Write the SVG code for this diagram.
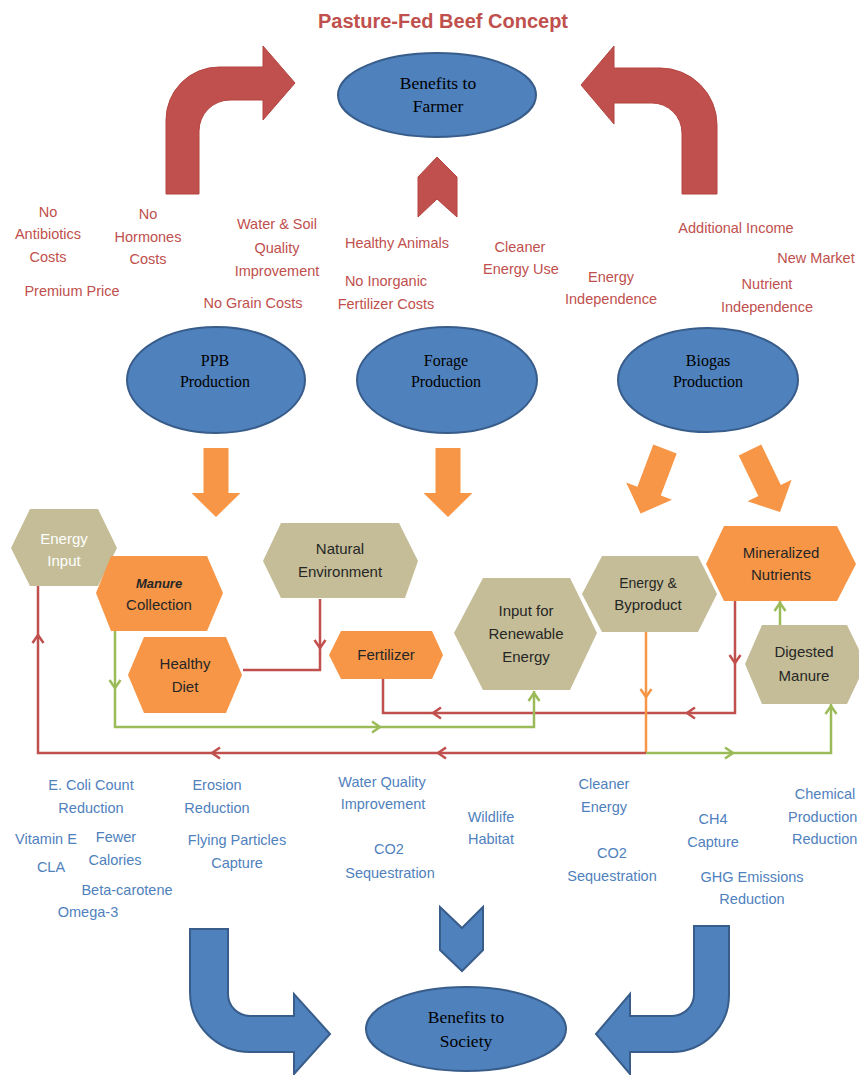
<svg xmlns="http://www.w3.org/2000/svg" xmlns:xlink="http://www.w3.org/1999/xlink" width="859" height="1075" viewBox="0 0 859 1075">
<style>
.t{font-family:"Liberation Sans",Arial,sans-serif;font-size:14.5px;text-anchor:middle}
.r{fill:#c0504d}
.b{fill:#4f81bd}
.s{font-family:"Liberation Serif","Times New Roman",serif;text-anchor:middle;fill:#000}
.ell{fill:#4f81bd;stroke:#385d8a;stroke-width:2}
.tan{fill:#c4bd97}
.org{fill:#f79646}
.ht{font-family:"Liberation Sans",Arial,sans-serif;font-size:15px;text-anchor:middle;fill:#262626}
.ra{fill:#c0504d;stroke:#b4443f;stroke-width:1}
.ba{fill:#4f81bd;stroke:#385d8a;stroke-width:2}
.oa{fill:#f79646}
.cn{fill:none;stroke-width:2.5;stroke-linejoin:miter}
.cr{stroke:#c0504d}
.cg{stroke:#9bbb59}
.co{stroke:#f79646}
.ch{fill:none;stroke-width:2.5;stroke-linejoin:miter;stroke-linecap:butt}
</style>
<defs>
<path id="chev" d="M-5.5,-8 L0,0 L5.5,-8"/>
<path id="oarrow" d="M-12.5,0 L12.5,0 L12.5,45 L24.5,45 L0,69 L-24.5,45 L-12.5,45 Z"/>
</defs>
<rect width="859" height="1075" fill="#ffffff"/>

<text x="443" y="28" font-family="Liberation Sans,Arial,sans-serif" font-size="20" font-weight="bold" text-anchor="middle" fill="#c0504d">Pasture-Fed Beef Concept</text>

<g id="farmer-arrows">
<path class="ra" d="M166,194 L166,120 A53,53 0 0 1 219,67 L263,67 L263,46 L295,83 L263,120 L263,100 L230,100 A31,31 0 0 0 199,131 L199,194 Z"/>
<path class="ra" d="M717,194 L717,125 A57,57 0 0 0 660,68 L614,68 L614,46 L581,85 L614,124 L614,103 L652,103 A30,30 0 0 1 682,133 L682,194 Z"/>
<path class="ra" d="M418,177 L437,157 L457,177 L457,217 L437,199 L418,217 Z"/>
</g>

<g id="benefits-farmer">
<ellipse class="ell" cx="437" cy="95" rx="99" ry="42"/>
<text class="s" x="438" y="89" font-size="17.5">Benefits to</text>
<text class="s" x="438" y="112" font-size="17.5">Farmer</text>
</g>

<g id="farmer-labels" class="t r">
<text x="48" y="217">No</text>
<text x="48" y="239">Antibiotics</text>
<text x="48" y="262">Costs</text>
<text x="72" y="296">Premium Price</text>
<text x="148" y="219">No</text>
<text x="148" y="242">Hormones</text>
<text x="148" y="264">Costs</text>
<text x="277" y="229">Water &amp; Soil</text>
<text x="277" y="253">Quality</text>
<text x="277" y="276">Improvement</text>
<text x="253" y="308">No Grain Costs</text>
<text x="397" y="248">Healthy Animals</text>
<text x="386" y="286">No Inorganic</text>
<text x="386" y="309">Fertilizer Costs</text>
<text x="520" y="252">Cleaner</text>
<text x="521" y="274">Energy Use</text>
<text x="611" y="282">Energy</text>
<text x="611" y="304">Independence</text>
<text x="736" y="233">Additional Income</text>
<text x="816" y="263">New Market</text>
<text x="767" y="289">Nutrient</text>
<text x="767" y="312">Independence</text>
</g>

<g id="ppb-production">
<ellipse class="ell" cx="216" cy="380" rx="89" ry="53"/>
<text class="s" x="215" y="366" font-size="16">PPB</text>
<text class="s" x="215" y="387" font-size="16">Production</text>
</g>
<g id="forage-production">
<ellipse class="ell" cx="447" cy="380" rx="90" ry="53"/>
<text class="s" x="446" y="366" font-size="16">Forage</text>
<text class="s" x="446" y="387" font-size="16">Production</text>
</g>
<g id="biogas-production">
<ellipse class="ell" cx="708" cy="380" rx="90" ry="52"/>
<text class="s" x="708" y="366" font-size="16">Biogas</text>
<text class="s" x="708" y="387" font-size="16">Production</text>
</g>

<g id="production-arrows" class="oa">
<use xlink:href="#oarrow" transform="translate(216,448)"/>
<use xlink:href="#oarrow" transform="translate(448,448)"/>
<use xlink:href="#oarrow" transform="translate(665,449) rotate(20.7)"/>
<use xlink:href="#oarrow" transform="translate(750,450) rotate(-25.8)"/>
</g>

<g id="connectors">
<path class="cn cr" d="M320,599 L320,670 L243,670"/>
<path class="cn cr" d="M735,601 L735,713 L383,713 L383,679"/>
<path class="cn cg" d="M115,631 L115,727 L534,727 L534,691"/>
<path class="cn co" d="M646,632 L646,753"/>
<path class="cn cr" d="M646,753 L38,753 L38,586"/>
<path class="cn cg" d="M646,753 L831,753 L831,704"/>
<path class="cn cg" d="M780,625 L780,601"/>
<g class="ch cr" stroke="#c0504d">
<use xlink:href="#chev" transform="translate(320,648)"/>
<use xlink:href="#chev" transform="translate(735,663)"/>
<use xlink:href="#chev" transform="translate(687,713) rotate(90)"/>
<use xlink:href="#chev" transform="translate(433,713) rotate(90)"/>
<use xlink:href="#chev" transform="translate(438,753) rotate(90)"/>
<use xlink:href="#chev" transform="translate(212,753) rotate(90)"/>
<use xlink:href="#chev" transform="translate(38,635) rotate(180)"/>
</g>
<g class="ch cg" stroke="#9bbb59">
<use xlink:href="#chev" transform="translate(115,688)"/>
<use xlink:href="#chev" transform="translate(380,727) rotate(-90)"/>
<use xlink:href="#chev" transform="translate(534,693) rotate(180)"/>
<use xlink:href="#chev" transform="translate(733,753) rotate(-90)"/>
<use xlink:href="#chev" transform="translate(831,706) rotate(180)"/>
<use xlink:href="#chev" transform="translate(780,603) rotate(180)"/>
</g>
<g class="ch co" stroke="#f79646">
<use xlink:href="#chev" transform="translate(646,697)"/>
</g>
</g>

<g id="energy-input">
<polygon class="tan" points="11,548 30,509 98,509 117,548 98,586 30,586"/>
<text class="ht" x="64" y="544" fill="#ffffff" style="fill:#ffffff">Energy</text>
<text class="ht" x="64" y="566" style="fill:#ffffff">Input</text>
</g>
<g id="manure-collection">
<polygon class="org" points="96,593 111,556 207,556 223,593 207,631 111,631"/>
<text class="ht" x="159" y="588" font-size="13" font-style="italic" font-weight="bold" style="font-size:13px">Manure</text>
<text class="ht" x="159" y="610">Collection</text>
</g>
<g id="healthy-diet">
<polygon class="org" points="128,675 144,637 226,637 242,675 226,713 144,713"/>
<text class="ht" x="185" y="669">Healthy</text>
<text class="ht" x="185" y="692">Diet</text>
</g>
<g id="natural-environment">
<polygon class="tan" points="263,561 281,523 399,523 418,561 405,598 281,598"/>
<text class="ht" x="340" y="554">Natural</text>
<text class="ht" x="340" y="577">Environment</text>
</g>
<g id="fertilizer">
<polygon class="org" points="329,655 341,631 432,631 443,655 432,679 341,679"/>
<text class="ht" x="386" y="660">Fertilizer</text>
</g>
<g id="input-renewable">
<polygon class="tan" points="454,633 483,578 570,578 597,633 570,690 483,690"/>
<text class="ht" x="526" y="616">Input for</text>
<text class="ht" x="526" y="639">Renewable</text>
<text class="ht" x="526" y="662">Energy</text>
</g>
<g id="energy-byproduct">
<polygon class="tan" points="582,594 602,556 698,556 717,594 698,632 602,632"/>
<text class="ht" x="648" y="588" style="font-size:14px">Energy &amp;</text>
<text class="ht" x="648" y="610">Byproduct</text>
</g>
<g id="mineralized-nutrients">
<polygon class="org" points="706,564 724,526 837,526 856,564 837,601 724,601"/>
<text class="ht" x="781" y="558">Mineralized</text>
<text class="ht" x="781" y="580">Nutrients</text>
</g>
<g id="digested-manure">
<polygon class="tan" points="745,664 762,625 847,625 866,664 847,704 762,704"/>
<text class="ht" x="804" y="657">Digested</text>
<text class="ht" x="804" y="681">Manure</text>
</g>

<g id="society-labels" class="t b">
<text x="91" y="790">E. Coli Count</text>
<text x="91" y="813">Reduction</text>
<text x="46" y="844">Vitamin E</text>
<text x="51" y="872">CLA</text>
<text x="116" y="842">Fewer</text>
<text x="115" y="865">Calories</text>
<text x="127" y="895">Beta-carotene</text>
<text x="88" y="917">Omega-3</text>
<text x="217" y="790">Erosion</text>
<text x="217" y="813">Reduction</text>
<text x="237" y="845">Flying Particles</text>
<text x="237" y="868">Capture</text>
<text x="382" y="787">Water Quality</text>
<text x="383" y="809">Improvement</text>
<text x="389" y="854">CO2</text>
<text x="390" y="878">Sequestration</text>
<text x="491" y="822">Wildlife</text>
<text x="491" y="844">Habitat</text>
<text x="604" y="789">Cleaner</text>
<text x="604" y="812">Energy</text>
<text x="612" y="858">CO2</text>
<text x="612" y="881">Sequestration</text>
<text x="713" y="824">CH4</text>
<text x="713" y="847">Capture</text>
<text x="752" y="882">GHG Emissions</text>
<text x="752" y="904">Reduction</text>
<text x="825" y="799">Chemical</text>
<text x="788" y="822" style="text-anchor:start">Production</text>
<text x="792" y="844" style="text-anchor:start">Reduction</text>
</g>

<g id="society-arrows">
<path class="ba" d="M190,929 L228,929 L228,994 A22,22 0 0 0 250,1016 L294,1016 L294,994 L330,1034 L294,1074 L294,1052 L250,1052 A60,60 0 0 1 190,992 Z"/>
<path class="ba" d="M729,926 L694,926 L694,994 A22,22 0 0 1 672,1016 L630,1016 L630,994 L596,1034 L630,1074 L630,1052 L672,1052 A57,57 0 0 0 729,995 Z"/>
<path class="ba" d="M440,907 L462,928 L483,907 L483,950 L462,971 L440,950 Z"/>
</g>

<g id="benefits-society">
<ellipse class="ell" cx="466" cy="1029" rx="100" ry="42"/>
<text class="s" x="466" y="1023" font-size="17.5">Benefits to</text>
<text class="s" x="466" y="1047" font-size="17.5">Society</text>
</g>
</svg>
